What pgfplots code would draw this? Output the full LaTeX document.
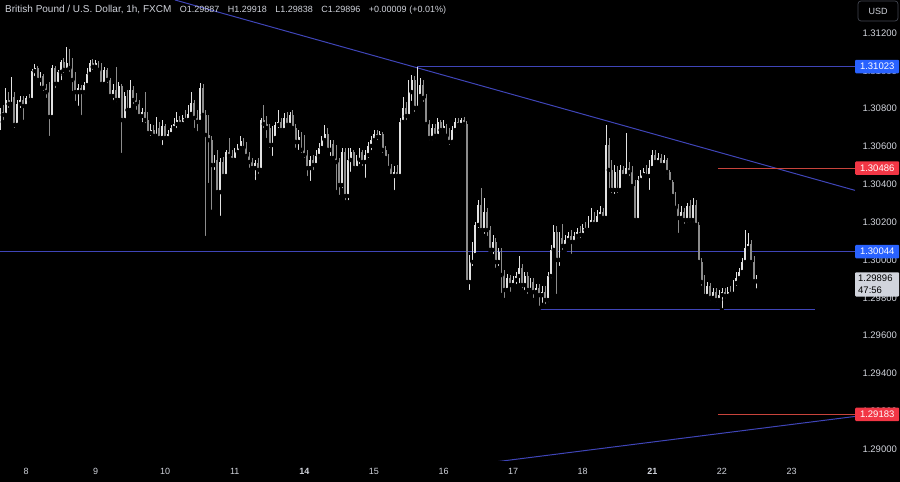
\documentclass[border=0pt]{standalone}
\usepackage{pgfplots}
\pgfplotsset{compat=1.18}
\usepackage{pgfplotstable}
\usepackage{fontspec}
\setmainfont{Liberation Sans}
\definecolor{txt}{HTML}{D1D4DC}
\definecolor{upc}{HTML}{E2E2E2}
\definecolor{dnc}{HTML}{8C8C8C}
\definecolor{tline}{HTML}{3F45B8}
\definecolor{rline}{HTML}{C8443C}
\definecolor{lblue}{HTML}{2962FF}
\definecolor{lred}{HTML}{F23645}
\definecolor{lgrey}{HTML}{D1D4DC}
\definecolor{usdb}{HTML}{434651}

\pgfplotstableread{
x o h l c
-9 1.30740 1.30804 1.30687 1.30783
-8 1.30783 1.30820 1.30730 1.30767
-7 1.30767 1.30910 1.30751 1.30846
-6 1.30846 1.30888 1.30793 1.30825
-5 1.30825 1.30968 1.30814 1.30862
-4 1.30862 1.30888 1.30687 1.30714
-3 1.30714 1.30846 1.30698 1.30825
-2 1.30825 1.30867 1.30793 1.30846
-1 1.30846 1.30867 1.30730 1.30814
0 1.30814 1.30867 1.30804 1.30857
1 1.30857 1.30878 1.30825 1.30846
2 1.30846 1.31010 1.30835 1.30999
3 1.30999 1.31036 1.30962 1.31015
4 1.31015 1.31026 1.30931 1.30952
5 1.30952 1.30994 1.30910 1.30973
6 1.30973 1.30984 1.30883 1.30910
7 1.30910 1.30931 1.30846 1.30888
8 1.30888 1.30941 1.30645 1.30756
9 1.30756 1.31031 1.30751 1.31015
10 1.31015 1.31026 1.30899 1.30931
11 1.30931 1.31005 1.30915 1.30994
12 1.30994 1.31058 1.30941 1.31047
13 1.31047 1.31068 1.30978 1.31005
14 1.31005 1.31126 1.30989 1.31042
15 1.31042 1.31116 1.30984 1.31015
16 1.31015 1.31068 1.30883 1.30952
17 1.30952 1.30994 1.30830 1.30888
18 1.30888 1.30931 1.30804 1.30910
19 1.30910 1.30925 1.30756 1.30888
20 1.30888 1.30941 1.30867 1.30925
21 1.30925 1.31015 1.30910 1.30984
22 1.30984 1.31058 1.30973 1.31042
23 1.31042 1.31063 1.30994 1.31021
24 1.31021 1.31058 1.31005 1.31042
25 1.31042 1.31052 1.30984 1.31005
26 1.31005 1.31042 1.30910 1.30931
27 1.30931 1.31021 1.30920 1.31005
28 1.31005 1.31015 1.30925 1.30952
29 1.30952 1.30962 1.30846 1.30867
30 1.30867 1.30931 1.30835 1.30899
31 1.30899 1.31021 1.30825 1.30846
32 1.30846 1.30941 1.30825 1.30920
33 1.30920 1.30931 1.30555 1.30740
34 1.30740 1.30888 1.30719 1.30867
35 1.30867 1.30899 1.30772 1.30793
36 1.30793 1.30952 1.30783 1.30899
37 1.30899 1.30920 1.30814 1.30846
38 1.30846 1.30883 1.30783 1.30825
39 1.30825 1.30846 1.30740 1.30761
40 1.30761 1.30804 1.30719 1.30783
41 1.30783 1.30888 1.30714 1.30740
42 1.30740 1.30783 1.30656 1.30671
43 1.30671 1.30719 1.30645 1.30687
44 1.30687 1.30714 1.30634 1.30656
45 1.30656 1.30756 1.30640 1.30698
46 1.30698 1.30730 1.30624 1.30645
47 1.30645 1.30740 1.30597 1.30709
48 1.30709 1.30719 1.30634 1.30645
49 1.30645 1.30687 1.30629 1.30666
50 1.30666 1.30714 1.30650 1.30698
51 1.30698 1.30751 1.30682 1.30719
52 1.30719 1.30783 1.30687 1.30740
53 1.30740 1.30761 1.30698 1.30719
54 1.30719 1.30767 1.30709 1.30751
55 1.30751 1.30793 1.30719 1.30740
56 1.30740 1.30820 1.30724 1.30772
57 1.30772 1.30888 1.30751 1.30830
58 1.30830 1.30846 1.30687 1.30751
59 1.30751 1.30793 1.30671 1.30730
60 1.30730 1.30936 1.30719 1.30910
61 1.30910 1.30931 1.30751 1.30767
62 1.30767 1.30793 1.30116 1.30661
63 1.30661 1.30767 1.30396 1.30634
64 1.30634 1.30656 1.30254 1.30502
65 1.30502 1.30555 1.30465 1.30529
66 1.30529 1.30582 1.30343 1.30359
67 1.30359 1.30539 1.30222 1.30518
68 1.30518 1.30545 1.30423 1.30444
69 1.30444 1.30582 1.30433 1.30571
70 1.30571 1.30645 1.30529 1.30550
71 1.30550 1.30582 1.30513 1.30529
72 1.30529 1.30592 1.30518 1.30571
73 1.30571 1.30613 1.30550 1.30592
74 1.30592 1.30656 1.30582 1.30629
75 1.30629 1.30645 1.30571 1.30592
76 1.30592 1.30624 1.30529 1.30550
77 1.30550 1.30571 1.30476 1.30518
78 1.30518 1.30539 1.30465 1.30486
79 1.30486 1.30529 1.30412 1.30513
80 1.30513 1.30539 1.30444 1.30476
81 1.30476 1.30751 1.30465 1.30740
82 1.30740 1.30820 1.30687 1.30719
83 1.30719 1.30761 1.30634 1.30698
84 1.30698 1.30719 1.30582 1.30608
85 1.30608 1.30709 1.30539 1.30645
86 1.30645 1.30730 1.30624 1.30714
87 1.30714 1.30793 1.30687 1.30730
88 1.30730 1.30751 1.30677 1.30687
89 1.30687 1.30777 1.30677 1.30751
90 1.30751 1.30783 1.30698 1.30714
91 1.30714 1.30783 1.30703 1.30767
92 1.30767 1.30793 1.30677 1.30698
93 1.30698 1.30719 1.30582 1.30624
94 1.30624 1.30687 1.30571 1.30650
95 1.30650 1.30677 1.30555 1.30582
96 1.30582 1.30661 1.30529 1.30555
97 1.30555 1.30582 1.30433 1.30486
98 1.30486 1.30550 1.30407 1.30529
99 1.30529 1.30555 1.30465 1.30502
100 1.30502 1.30582 1.30486 1.30550
101 1.30550 1.30619 1.30529 1.30592
102 1.30592 1.30656 1.30576 1.30634
103 1.30634 1.30714 1.30619 1.30666
104 1.30666 1.30698 1.30560 1.30582
105 1.30582 1.30634 1.30539 1.30613
106 1.30613 1.30634 1.30518 1.30539
107 1.30539 1.30608 1.30359 1.30518
108 1.30518 1.30539 1.30333 1.30396
109 1.30396 1.30592 1.30370 1.30571
110 1.30571 1.30592 1.30306 1.30338
111 1.30338 1.30592 1.30306 1.30529
112 1.30529 1.30592 1.30455 1.30571
113 1.30571 1.30582 1.30465 1.30486
114 1.30486 1.30555 1.30476 1.30529
115 1.30529 1.30592 1.30497 1.30571
116 1.30571 1.30582 1.30486 1.30518
117 1.30518 1.30582 1.30423 1.30555
118 1.30555 1.30624 1.30529 1.30603
119 1.30603 1.30656 1.30571 1.30634
120 1.30634 1.30687 1.30624 1.30666
121 1.30666 1.30687 1.30624 1.30650
122 1.30650 1.30682 1.30634 1.30666
123 1.30666 1.30677 1.30555 1.30582
124 1.30582 1.30603 1.30518 1.30539
125 1.30539 1.30560 1.30465 1.30486
126 1.30486 1.30507 1.30423 1.30444
127 1.30444 1.30497 1.30359 1.30465
128 1.30465 1.30502 1.30423 1.30444
129 1.30444 1.30751 1.30433 1.30730
130 1.30730 1.30862 1.30714 1.30804
131 1.30804 1.30835 1.30730 1.30761
132 1.30761 1.30952 1.30751 1.30888
133 1.30888 1.30978 1.30830 1.30952
134 1.30952 1.30973 1.30772 1.30804
135 1.30804 1.31023 1.30793 1.30867
136 1.30867 1.30962 1.30846 1.30925
137 1.30925 1.30952 1.30825 1.30857
138 1.30857 1.30878 1.30698 1.30719
139 1.30719 1.30740 1.30624 1.30645
140 1.30645 1.30719 1.30624 1.30698
141 1.30698 1.30719 1.30634 1.30656
142 1.30656 1.30751 1.30645 1.30730
143 1.30730 1.30740 1.30666 1.30687
144 1.30687 1.30740 1.30671 1.30709
145 1.30709 1.30719 1.30634 1.30656
146 1.30656 1.30698 1.30597 1.30624
147 1.30624 1.30709 1.30608 1.30687
148 1.30687 1.30751 1.30666 1.30730
149 1.30730 1.30751 1.30698 1.30714
150 1.30714 1.30751 1.30703 1.30740
151 1.30740 1.30756 1.30698 1.30719
152 1.30719 1.30735 1.29873 1.29883
153 1.29883 1.30026 1.29830 1.29989
154 1.29989 1.30095 1.29957 1.30026
155 1.30026 1.30201 1.30010 1.30185
156 1.30185 1.30317 1.30158 1.30291
157 1.30291 1.30381 1.30137 1.30158
158 1.30158 1.30328 1.30127 1.30254
159 1.30254 1.30275 1.30116 1.30158
160 1.30158 1.30180 1.30031 1.30053
161 1.30053 1.30132 1.30021 1.30095
162 1.30095 1.30116 1.29947 1.29989
163 1.29989 1.30063 1.29957 1.30042
164 1.30042 1.30063 1.29814 1.29920
165 1.29920 1.29947 1.29788 1.29841
166 1.29841 1.29926 1.29830 1.29904
167 1.29904 1.29920 1.29820 1.29867
168 1.29867 1.29915 1.29852 1.29894
169 1.29894 1.29936 1.29862 1.29915
170 1.29915 1.30021 1.29867 1.29957
171 1.29957 1.29978 1.29841 1.29867
172 1.29867 1.29936 1.29830 1.29915
173 1.29915 1.29936 1.29809 1.29841
174 1.29841 1.29904 1.29820 1.29883
175 1.29883 1.29904 1.29788 1.29830
176 1.29830 1.29873 1.29809 1.29852
177 1.29852 1.29873 1.29746 1.29814
178 1.29814 1.29862 1.29762 1.29830
179 1.29830 1.29862 1.29756 1.29788
180 1.29788 1.29936 1.29767 1.29915
181 1.29915 1.30079 1.29894 1.30053
182 1.30053 1.30185 1.30042 1.30148
183 1.30148 1.30180 1.29809 1.30000
184 1.30000 1.30148 1.29957 1.30116
185 1.30116 1.30190 1.30042 1.30074
186 1.30074 1.30132 1.30053 1.30105
187 1.30105 1.30148 1.30084 1.30127
188 1.30127 1.30158 1.30021 1.30095
189 1.30095 1.30148 1.30079 1.30127
190 1.30127 1.30169 1.30105 1.30148
191 1.30148 1.30180 1.30105 1.30132
192 1.30132 1.30190 1.30116 1.30169
193 1.30169 1.30201 1.30137 1.30158
194 1.30158 1.30232 1.30148 1.30190
195 1.30190 1.30275 1.30180 1.30211
196 1.30211 1.30254 1.30169 1.30190
197 1.30190 1.30264 1.30180 1.30232
198 1.30232 1.30285 1.30211 1.30254
199 1.30254 1.30275 1.30201 1.30222
200 1.30222 1.30714 1.30211 1.30608
201 1.30608 1.30645 1.30370 1.30476
202 1.30476 1.30529 1.30343 1.30370
203 1.30370 1.30502 1.30338 1.30465
204 1.30465 1.30497 1.30343 1.30370
205 1.30370 1.30502 1.30354 1.30476
206 1.30476 1.30497 1.30423 1.30444
207 1.30444 1.30671 1.30423 1.30486
208 1.30486 1.30518 1.30433 1.30465
209 1.30465 1.30497 1.30370 1.30391
210 1.30391 1.30423 1.30201 1.30211
211 1.30211 1.30444 1.30201 1.30423
212 1.30423 1.30476 1.30402 1.30449
213 1.30449 1.30486 1.30433 1.30465
214 1.30465 1.30502 1.30423 1.30444
215 1.30444 1.30529 1.30359 1.30486
216 1.30486 1.30582 1.30465 1.30555
217 1.30555 1.30582 1.30497 1.30518
218 1.30518 1.30566 1.30507 1.30539
219 1.30539 1.30560 1.30486 1.30502
220 1.30502 1.30555 1.30486 1.30529
221 1.30529 1.30539 1.30444 1.30465
222 1.30465 1.30476 1.30391 1.30412
223 1.30412 1.30423 1.30317 1.30338
224 1.30338 1.30359 1.30254 1.30275
225 1.30275 1.30296 1.30132 1.30222
226 1.30222 1.30285 1.30201 1.30254
227 1.30254 1.30275 1.30180 1.30211
228 1.30211 1.30301 1.30190 1.30285
229 1.30285 1.30317 1.30190 1.30211
230 1.30211 1.30328 1.30190 1.30291
231 1.30291 1.30317 1.30169 1.30185
232 1.30185 1.30201 1.29973 1.29989
233 1.29989 1.30010 1.29852 1.29883
234 1.29883 1.29920 1.29788 1.29809
235 1.29809 1.29883 1.29788 1.29862
236 1.29862 1.29878 1.29777 1.29799
237 1.29799 1.29852 1.29788 1.29830
238 1.29830 1.29852 1.29767 1.29788
239 1.29788 1.29841 1.29772 1.29814
240 1.29814 1.29852 1.29735 1.29830
241 1.29830 1.29852 1.29788 1.29809
242 1.29809 1.29857 1.29799 1.29830
243 1.29830 1.29862 1.29799 1.29820
244 1.29820 1.29894 1.29809 1.29878
245 1.29878 1.29936 1.29852 1.29904
246 1.29904 1.29957 1.29883 1.29936
247 1.29936 1.30010 1.29915 1.29989
248 1.29989 1.30158 1.29973 1.30063
249 1.30063 1.30143 1.30042 1.30084
250 1.30084 1.30105 1.29978 1.29989
251 1.29989 1.30021 1.29878 1.29887
252 1.29887 1.29918 1.29838 1.29896
}\candles

\begin{document}
\begin{tikzpicture}
\fill[black] (0,0) rectangle (900pt,482pt);
\begin{axis}[
  at={(0pt,22pt)}, anchor=south west,
  scale only axis, width=855pt, height=460pt,
  xmin=-8.97, xmax=285.9,
  ymin=1.289416, ymax=1.31375,
  axis line style={draw=none},
  major tick length=0pt,
  tick style={draw=none},
  clip mode=individual,
  /pgf/number format/assume math mode=true,
  xtick={0,24,48,72,96,120,144,168,192,216,240,264},
  xticklabels={8,9,10,11,\textbf{14},15,16,17,18,\textbf{21},22,23},
  xticklabel style={font=\fontsize{9}{10}\selectfont, text=txt, yshift=-5pt},
  ytick={1.290,1.292,1.294,1.296,1.298,1.300,1.302,1.304,1.306,1.308,1.310,1.312},
  yticklabel pos=right,
  yticklabel={\pgfmathprintnumber[fixed,fixed zerofill,precision=5]{\tick}},
  yticklabel style={font=\fontsize{9.5}{10}\selectfont, text=txt, anchor=west, xshift=4pt},
]
% drawn lines (behind the candles)
\addplot[tline, line width=1pt] coordinates {(51.4,1.31375) (285.9,1.30368)};
\addplot[tline, line width=1pt] coordinates {(135,1.31023) (285.9,1.31023)};
\addplot[tline, line width=1pt] coordinates {(-8.97,1.30044) (285.9,1.30044)};
\addplot[tline, line width=1pt] coordinates {(177.2,1.29738) (272.1,1.29738)};
\addplot[tline, line width=1pt] coordinates {(160.0,1.28928) (285.9,1.29172)};
\addplot[rline, line width=1pt] coordinates {(238.6,1.30486) (285.9,1.30486)};
\addplot[rline, line width=1pt] coordinates {(238.6,1.29183) (285.9,1.29183)};
% wicks
\addplot[forget plot, only marks, mark=none,
  restrict expr to domain={\thisrow{c}-\thisrow{o}}{0:1},
  error bars/.cd, y dir=plus, y explicit, error mark=none,
  error bar style={draw=upc, solid, line width=0.6pt}]
  table[x=x, y=l, y error expr=\thisrow{h}-\thisrow{l}] {\candles};
\addplot[forget plot, only marks, mark=none,
  restrict expr to domain={\thisrow{c}-\thisrow{o}}{-1:-0.000001},
  error bars/.cd, y dir=plus, y explicit, error mark=none,
  error bar style={draw=dnc, solid, line width=0.6pt}]
  table[x=x, y=l, y error expr=\thisrow{h}-\thisrow{l}] {\candles};
% bodies
\addplot[forget plot, only marks, mark=none,
  restrict expr to domain={\thisrow{c}-\thisrow{o}}{0:1},
  error bars/.cd, y dir=plus, y explicit, error mark=none,
  error bar style={draw=upc, solid, line width=1.9pt}]
  table[x=x, y=o, y error expr={max(\thisrow{c}-\thisrow{o},0.00002)}] {\candles};
\addplot[forget plot, only marks, mark=none,
  restrict expr to domain={\thisrow{c}-\thisrow{o}}{-1:-0.000001},
  error bars/.cd, y dir=plus, y explicit, error mark=none,
  error bar style={draw=dnc, solid, line width=1.9pt}]
  table[x=x, y=c, y error expr={max(\thisrow{o}-\thisrow{c},0.00002)}] {\candles};
\coordinate (p1) at (axis cs:285.9,1.31023);
\coordinate (p2) at (axis cs:285.9,1.30486);
\coordinate (p3) at (axis cs:285.9,1.30044);
\coordinate (p4) at (axis cs:285.9,1.29896);
\coordinate (p5) at (axis cs:285.9,1.29183);
\end{axis}
\tikzset{pl/.style={anchor=west, minimum width=44pt, minimum height=13.5pt, inner sep=0pt, text=white, font=\fontsize{9.5}{10}\selectfont, rounded corners=1pt}}
\node[pl, fill=lblue] at (p1) {1.31023};
\node[pl, fill=lred] at (p2) {1.30486};
\node[pl, fill=lblue] at (p3) {1.30044};
\node[pl, fill=lred] at (p5) {1.29183};
\node[anchor=north west, fill=lgrey, text=black, minimum width=44pt, text width=38pt, inner sep=3pt, align=left,
  font=\fontsize{9.5}{11.5}\selectfont, rounded corners=1pt] at ([yshift=7.5pt]p4) {1.29896\\47:56};
\draw[usdb, fill=black, rounded corners=3pt, line width=0.7pt] (858pt,461pt) rectangle (898pt,481pt);
\node[text=txt, font=\fontsize{9}{10}\selectfont] at (878pt,471pt) {USD};
\node[anchor=west, text=txt, font=\fontsize{9}{10}\selectfont, inner sep=0pt] at (5pt,472pt)
  {{\fontsize{10}{11}\selectfont British Pound / U.S. Dollar, 1h, FXCM}\hspace{8.5pt}O1.29887\hspace{8.5pt}H1.29918\hspace{8.5pt}L1.29838\hspace{8.5pt}C1.29896\hspace{8.5pt}+0.00009 (+0.01\%)};
\pgfresetboundingbox
\path[use as bounding box] (0,0) rectangle (900pt,482pt);
\end{tikzpicture}
\end{document}
